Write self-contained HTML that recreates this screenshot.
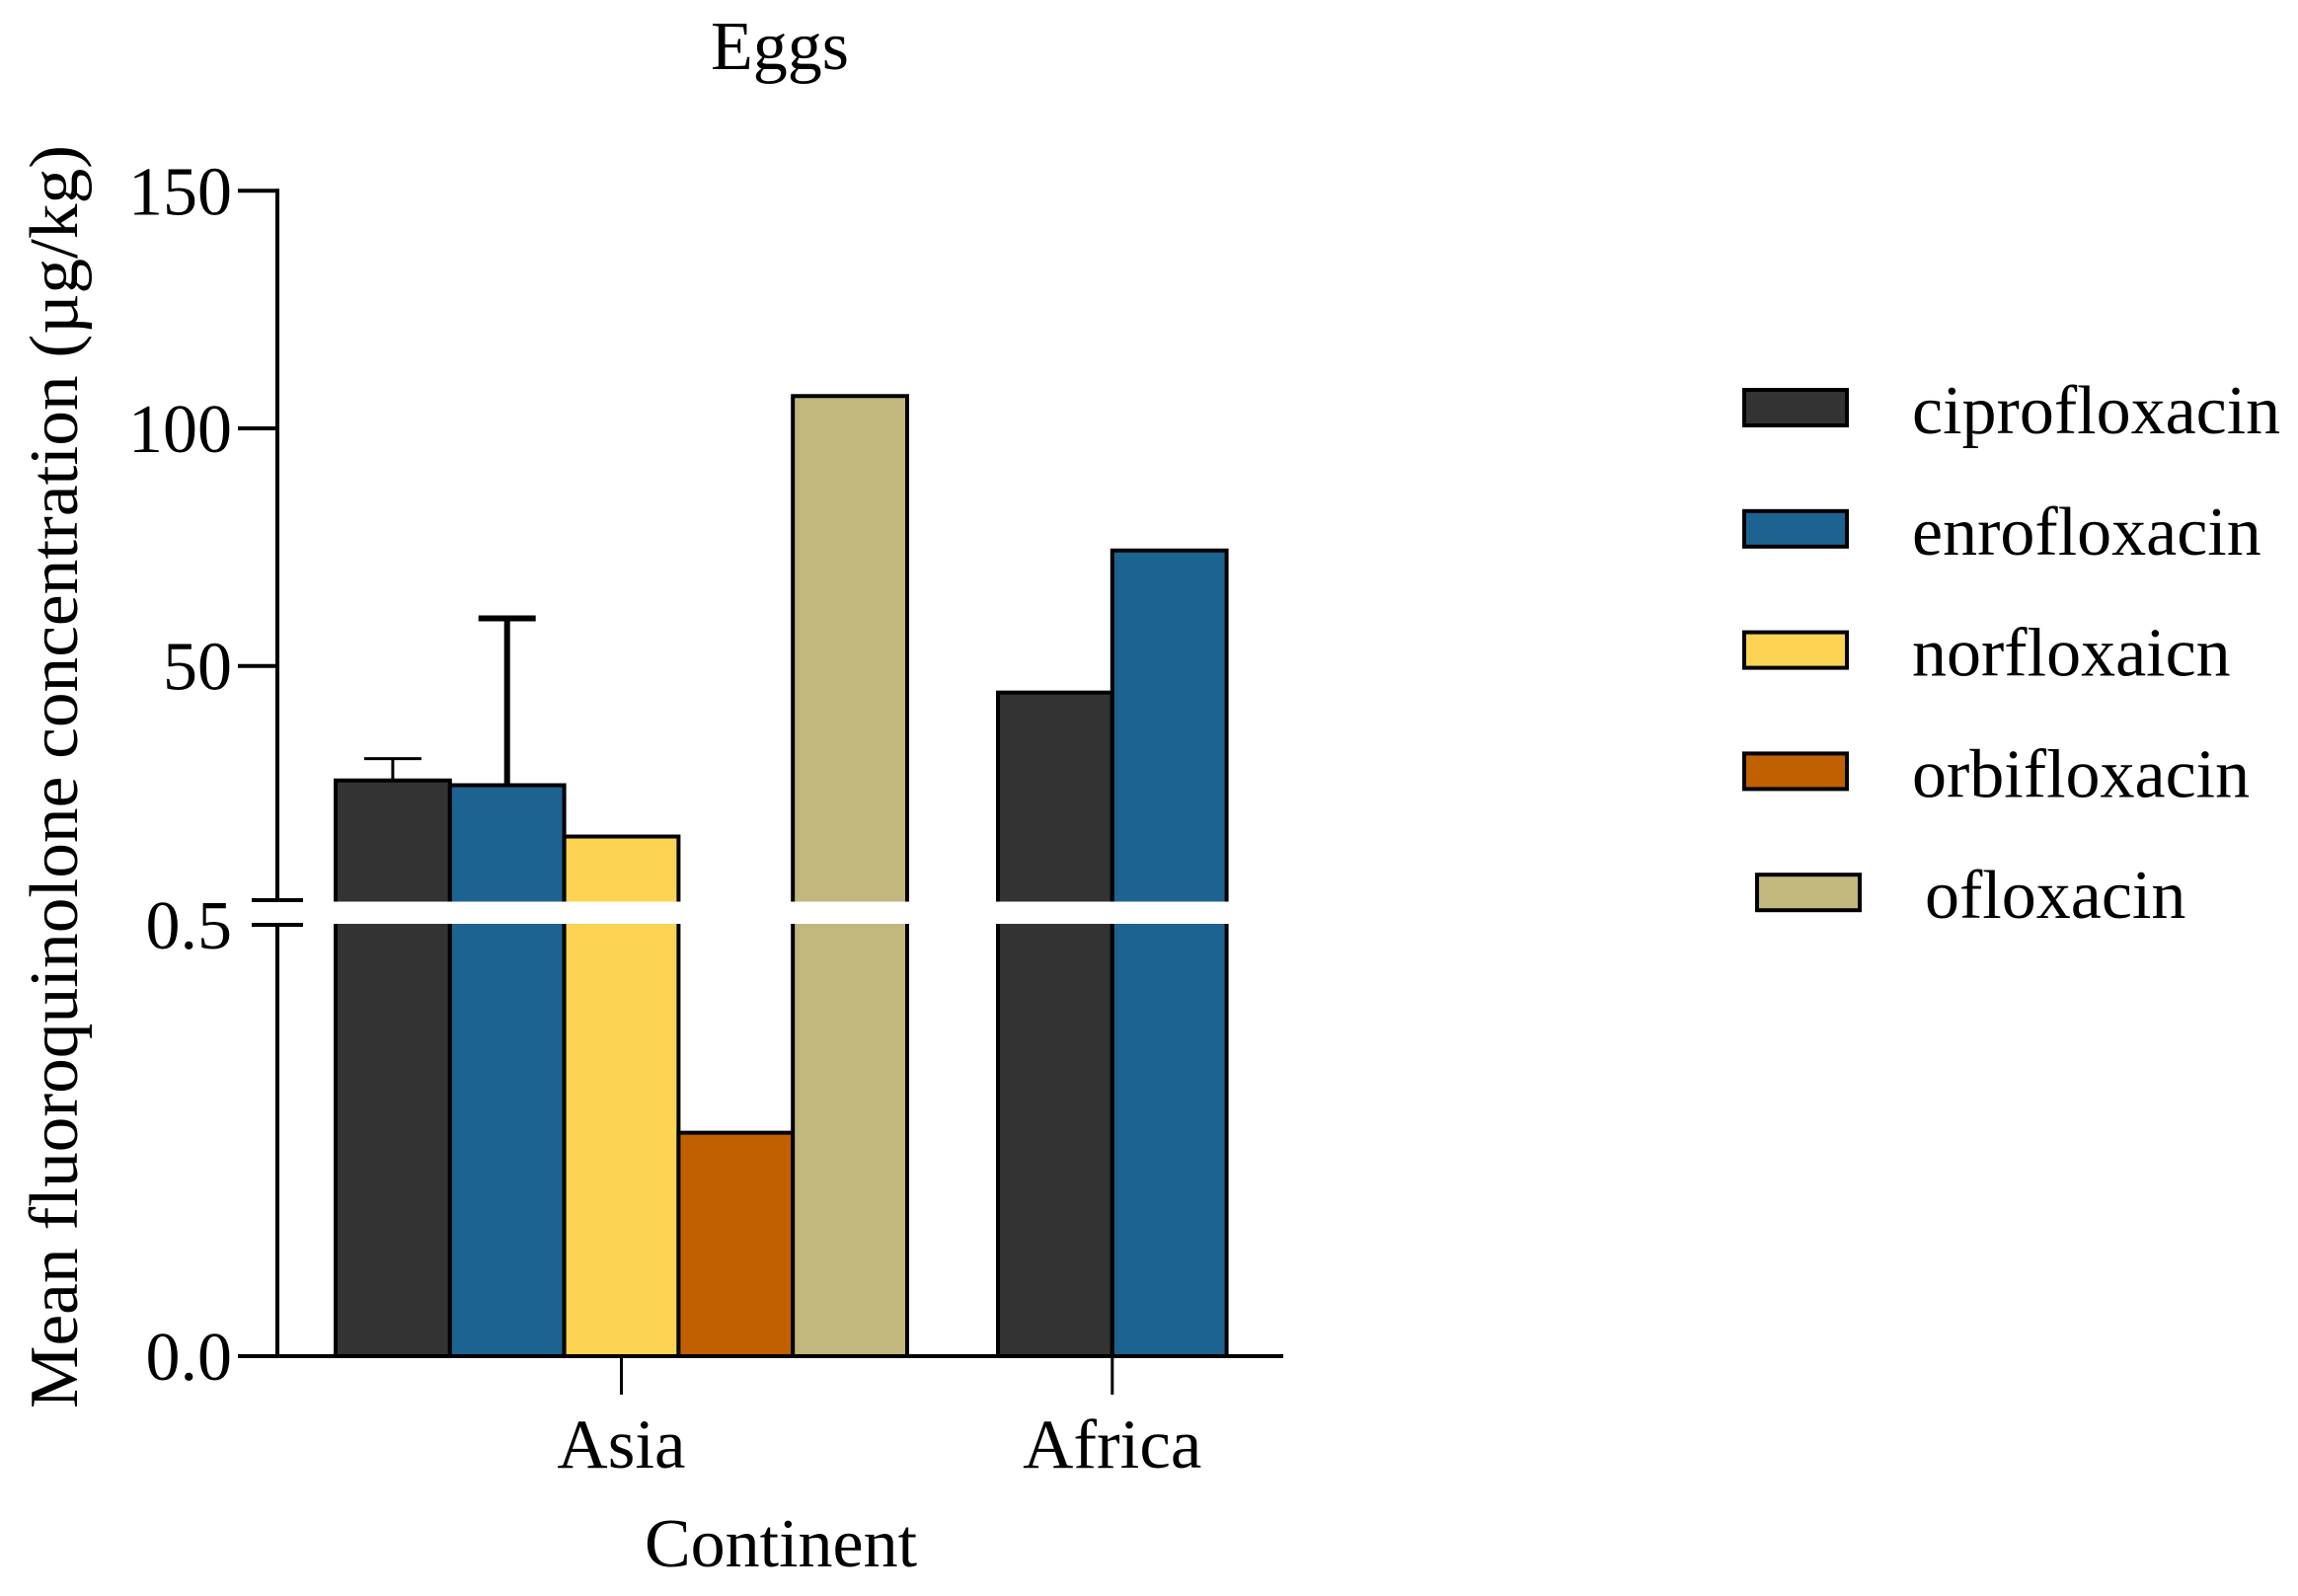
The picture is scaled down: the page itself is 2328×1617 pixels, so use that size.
<!DOCTYPE html>
<html><head><meta charset="utf-8"><style>
html,body{margin:0;padding:0;background:#fff;}
svg{display:block;font-family:"Liberation Serif","Times New Roman",serif;}
</style></head><body>
<svg id="chart" width="2328" height="1617" viewBox="0 0 2328 1617" xmlns="http://www.w3.org/2000/svg">
<text x="790" y="70" font-size="70" text-anchor="middle">Eggs</text>
<text transform="translate(78,787) rotate(-90)" font-size="70" text-anchor="middle" textLength="1280" lengthAdjust="spacingAndGlyphs">Mean fluoroquinolone concentration (µg/kg)</text>
<text x="791" y="1587" font-size="70" text-anchor="middle">Continent</text>
<g id="bars"></g>
<g id="axes"></g>
<g id="legend"></g>
</svg>
<script>
const categories = ["Asia", "Africa"];
const seriesNames = ["ciprofloxacin", "enrofloxacin", "norfloxaicn", "orbifloxacin", "ofloxacin"];
const seriesColors = ["#333333", "#1d6391", "#fcd353", "#c06000", "#c2b77d"];
const asiaValues = [25.9, 24.9, 14.1, 0.259, 106.8];
const asiaErrors = [4.6, 35.1, null, null, null];
const africaValues = [44.4, 74.3];
const africaErrors = [null, null];
const upperTicks = [50, 100, 150];
const upperTickLabels = ["50", "100", "150"];
const lowerTicks = [0, 0.5];
const lowerTickLabels = ["0.0", "0.5"];

const NS = "http://www.w3.org/2000/svg";
function mk(tag, attrs, parent) {
  const e = document.createElementNS(NS, tag);
  for (const k in attrs) e.setAttribute(k, attrs[k]);
  parent.appendChild(e);
  return e;
}
// broken y axis: lower segment 0..0.5, upper 0.5..150
const yLow0 = 1374, yLowTop = 937, lowMax = 0.5;
const yUp150 = 193.3, yUp100 = 434;
const upPer = (yUp100 - yUp150) / 50;
const gapTop = 913;
function yLow(v) { return yLow0 - (v / lowMax) * (yLow0 - yLowTop); }
function yUp(v) { return yUp150 + (150 - v) * upPer; }
function yScale(v) { return v <= lowMax ? yLow(v) : yUp(v); }
const barW = 115.8;
const groupStart = [340, 1011];
function xBar(ci, si) { return groupStart[ci] + si * barW; }

const bars = document.getElementById("bars");
const allVals = [asiaValues, africaValues];
const allErr = [asiaErrors, africaErrors];
allVals.forEach((vals, ci) => {
  vals.forEach((v, si) => {
    const x = xBar(ci, si), top = yScale(v);
    const r = mk("rect", {x: x, y: top, width: barW, height: yLow0 - top, fill: seriesColors[si], stroke: "#000", "stroke-width": 4}, bars);
    
    
    const err = allErr[ci][si];
    if (err != null) {
      const cx = x + barW / 2, ey = yScale(v + err);
      const sw = err > 20 ? 6 : 3;
      const g = mk("g", {stroke: "#000", "stroke-width": sw}, bars);
      
      
      mk("line", {x1: cx, x2: cx, y1: top, y2: ey}, g);
      mk("line", {x1: cx - 29, x2: cx + 29, y1: ey, y2: ey}, g);
    }
  });
});
// break gap
const gap = mk("rect", {x: 283, y: gapTop + 0.5, width: 1050, height: yLowTop - gapTop - 1.5, fill: "#fff"}, bars);



const axes = document.getElementById("axes");
const yAxis = mk("g", {stroke: "#000", "stroke-width": 4}, axes);


mk("line", {x1: 281, x2: 281, y1: yUp150 - 2, y2: gapTop}, yAxis);
mk("line", {x1: 281, x2: 281, y1: yLowTop, y2: yLow0 + 2}, yAxis);
mk("line", {x1: 255, x2: 307, y1: gapTop - 1, y2: gapTop - 1}, yAxis);
mk("line", {x1: 255, x2: 307, y1: yLowTop, y2: yLowTop}, yAxis);
const xAxis = mk("line", {x1: 241, x2: 1300, y1: yLow0, y2: yLow0, stroke: "#000", "stroke-width": 4}, axes);


upperTicks.forEach((t, i) => {
  const y = yUp(t);
  const l = mk("line", {x1: 241, x2: 281, y1: y, y2: y, stroke: "#000", "stroke-width": 4}, axes);
  
  
  const tx = mk("text", {x: 235, y: y + 24, "font-size": 70, "text-anchor": "end"}, axes);
  tx.textContent = upperTickLabels[i];
  
  
});
lowerTicks.forEach((t, i) => {
  const y = yLow(t);
  const tx = mk("text", {x: 235, y: y + 24, "font-size": 70, "text-anchor": "end"}, axes);
  tx.textContent = lowerTickLabels[i];
  
  
});
categories.forEach((c, ci) => {
  const n = allVals[ci].length;
  const cx = ci === 0 ? xBar(0, 2.5) : xBar(1, 1);
  const l = mk("line", {x1: cx, x2: cx, y1: yLow0, y2: 1413, stroke: "#000", "stroke-width": 3}, axes);
  
  
  const tx = mk("text", {x: cx, y: 1487, "font-size": 71, "text-anchor": "middle"}, axes);
  tx.textContent = c;
  
  
});

const legend = document.getElementById("legend");
seriesNames.forEach((s, i) => {
  const cy = 413 + i * 122.8;
  const off = i === 4 ? 13 : 0;
  const g = mk("g", {}, legend);
  
  
  mk("rect", {x: 1767 + off, y: cy - 18, width: 104, height: 36, fill: seriesColors[i], stroke: "#000", "stroke-width": 4}, g);
  const t = mk("text", {x: 1937 + off, y: cy + 26, "font-size": 70}, g);
  t.textContent = s;
});
</script>
</body></html>
